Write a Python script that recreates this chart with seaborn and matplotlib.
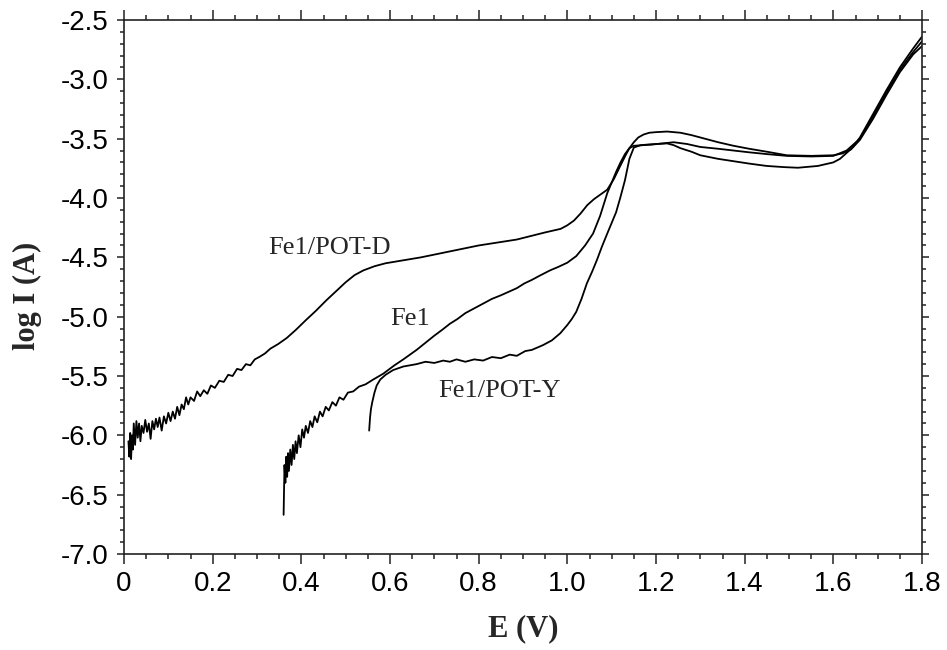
import numpy as np
import pandas as pd
import matplotlib
matplotlib.use("Agg")
import matplotlib.pyplot as plt
from matplotlib.ticker import MultipleLocator, FuncFormatter
import seaborn as sns

# Polarization curves: potential E (V) vs log I (A)
pot_d_E = [0.010, 0.012, 0.014, 0.016, 0.018, 0.020, 0.022, 0.025, 0.028, 0.031,
           0.034, 0.037, 0.040, 0.044, 0.048, 0.052, 0.056, 0.060, 0.064, 0.068,
           0.072, 0.076, 0.080, 0.085, 0.090, 0.095, 0.100, 0.105, 0.110, 0.115,
           0.120, 0.125, 0.130, 0.135, 0.140, 0.145, 0.150, 0.158, 0.165, 0.172,
           0.180, 0.188, 0.196, 0.205, 0.215, 0.225, 0.235, 0.245, 0.255, 0.265,
           0.275, 0.285, 0.295, 0.305, 0.318, 0.330, 0.348, 0.367, 0.388, 0.410,
           0.433, 0.457, 0.480, 0.500, 0.520, 0.540, 0.565, 0.590, 0.630, 0.670,
           0.735, 0.800, 0.886, 0.950, 0.985, 1.000, 1.015, 1.030, 1.045, 1.060,
           1.075, 1.090, 1.105, 1.118, 1.130, 1.140, 1.150, 1.160, 1.172, 1.185,
           1.200, 1.225, 1.255, 1.280, 1.300, 1.340, 1.375, 1.410, 1.450, 1.495,
           1.550, 1.600, 1.620, 1.640, 1.660, 1.690, 1.720, 1.750, 1.780, 1.800]
pot_d_logI = [-6.05, -6.18, -5.98, -6.20, -6.00, -6.12, -5.90, -6.08, -5.88, -6.02,
              -5.90, -6.05, -5.92, -5.98, -5.87, -5.97, -5.90, -6.03, -5.88, -5.95,
              -5.86, -5.93, -5.85, -5.96, -5.84, -5.90, -5.81, -5.88, -5.80, -5.86,
              -5.76, -5.83, -5.74, -5.78, -5.68, -5.74, -5.68, -5.71, -5.63, -5.67,
              -5.62, -5.65, -5.58, -5.60, -5.54, -5.55, -5.49, -5.50, -5.44, -5.45,
              -5.40, -5.41, -5.36, -5.34, -5.31, -5.27, -5.23, -5.18, -5.11, -5.03,
              -4.95, -4.86, -4.78, -4.71, -4.65, -4.61, -4.575, -4.55, -4.525, -4.50,
              -4.45, -4.40, -4.35, -4.29, -4.26, -4.23, -4.19, -4.13, -4.06, -4.01,
              -3.97, -3.93, -3.84, -3.74, -3.65, -3.58, -3.53, -3.49, -3.465, -3.45,
              -3.445, -3.44, -3.45, -3.47, -3.49, -3.53, -3.56, -3.585, -3.61, -3.64,
              -3.645, -3.64, -3.625, -3.59, -3.49, -3.29, -3.09, -2.90, -2.74, -2.64]

fe1_E = [0.360, 0.362, 0.364, 0.366, 0.368, 0.370, 0.372, 0.375, 0.378, 0.381,
         0.384, 0.387, 0.390, 0.394, 0.398, 0.402, 0.406, 0.410, 0.415, 0.420,
         0.425, 0.430, 0.436, 0.442, 0.448, 0.455, 0.462, 0.470, 0.478, 0.486,
         0.495, 0.505, 0.517, 0.530, 0.545, 0.562, 0.585, 0.610, 0.630, 0.660,
         0.680, 0.700, 0.718, 0.735, 0.752, 0.770, 0.790, 0.810, 0.830, 0.850,
         0.868, 0.886, 0.903, 0.920, 0.940, 0.961, 0.980, 1.000, 1.020, 1.040,
         1.058, 1.074, 1.090, 1.100, 1.110, 1.120, 1.130, 1.140, 1.150, 1.170,
         1.190, 1.215, 1.240, 1.270, 1.300, 1.340, 1.375, 1.410, 1.450, 1.495,
         1.550, 1.600, 1.630, 1.660, 1.690, 1.720, 1.750, 1.780, 1.800]
fe1_logI = [-6.67, -6.25, -6.40, -6.18, -6.35, -6.15, -6.30, -6.12, -6.25, -6.08,
            -6.20, -6.05, -6.15, -6.00, -6.10, -5.95, -6.02, -5.92, -5.98, -5.88,
            -5.93, -5.84, -5.89, -5.80, -5.84, -5.76, -5.79, -5.72, -5.75, -5.68,
            -5.70, -5.64, -5.63, -5.59, -5.57, -5.53, -5.48, -5.41, -5.36, -5.28,
            -5.22, -5.16, -5.11, -5.06, -5.02, -4.97, -4.93, -4.89, -4.85, -4.82,
            -4.79, -4.76, -4.72, -4.69, -4.65, -4.61, -4.58, -4.545, -4.49, -4.40,
            -4.30, -4.15, -3.96, -3.87, -3.78, -3.70, -3.63, -3.58, -3.56, -3.555,
            -3.55, -3.54, -3.53, -3.545, -3.57, -3.585, -3.60, -3.615, -3.63, -3.645,
            -3.65, -3.645, -3.60, -3.50, -3.31, -3.11, -2.92, -2.77, -2.68]

pot_y_E = [0.553, 0.555, 0.557, 0.560, 0.565, 0.570, 0.578, 0.590, 0.607, 0.630,
           0.660, 0.680, 0.700, 0.720, 0.735, 0.750, 0.770, 0.790, 0.810, 0.830,
           0.850, 0.870, 0.886, 0.905, 0.920, 0.945, 0.965, 0.984, 1.000, 1.010,
           1.020, 1.032, 1.044, 1.056, 1.067, 1.078, 1.090, 1.100, 1.110, 1.120,
           1.130, 1.140, 1.150, 1.165, 1.180, 1.200, 1.225, 1.240, 1.255, 1.280,
           1.300, 1.340, 1.375, 1.410, 1.450, 1.490, 1.520, 1.565, 1.600, 1.615,
           1.630, 1.645, 1.660, 1.690, 1.720, 1.750, 1.780, 1.800]
pot_y_logI = [-5.96, -5.85, -5.78, -5.72, -5.64, -5.58, -5.53, -5.49, -5.45, -5.42,
              -5.40, -5.38, -5.39, -5.37, -5.38, -5.36, -5.38, -5.36, -5.37, -5.34,
              -5.35, -5.32, -5.33, -5.29, -5.28, -5.24, -5.20, -5.14, -5.07, -5.02,
              -4.96, -4.85, -4.72, -4.62, -4.52, -4.41, -4.30, -4.21, -4.12, -3.99,
              -3.85, -3.67, -3.575, -3.555, -3.55, -3.545, -3.54, -3.555, -3.58, -3.61,
              -3.64, -3.67, -3.69, -3.71, -3.73, -3.74, -3.745, -3.73, -3.70, -3.67,
              -3.62, -3.57, -3.51, -3.33, -3.13, -2.94, -2.79, -2.72]

labels = ["Fe1/POT-D", "Fe1", "Fe1/POT-Y"]
label_E = [0.325, 0.600, 0.708]
label_logI = [-4.42, -5.02, -5.63]

x_ticks = [0, 0.2, 0.4, 0.6, 0.8, 1.0, 1.2, 1.4, 1.6, 1.8]
y_ticks = [-2.5, -3.0, -3.5, -4.0, -4.5, -5.0, -5.5, -6.0, -6.5, -7.0]

frames = []
for name, e, li in [(labels[0], pot_d_E, pot_d_logI),
                    (labels[1], fe1_E, fe1_logI),
                    (labels[2], pot_y_E, pot_y_logI)]:
    frames.append(pd.DataFrame({"E": e, "logI": li, "sample": name,
                                "step": np.arange(len(e))}))
df = pd.concat(frames, ignore_index=True)

sns.set_style("ticks")
plt.rcParams["axes.unicode_minus"] = False
plt.rcParams["font.family"] = ["Liberation Sans", "DejaVu Sans"]

fig = plt.figure(figsize=(9.47, 6.5), dpi=100)
ax = fig.add_axes([124 / 947, 1 - 554 / 650, 798 / 947, 534 / 650])

sns.lineplot(data=df, x="E", y="logI", units="sample", estimator=None,
             sort=False, color="black", linewidth=1.3, ax=ax, legend=False)

ax.set_xlim(0, 1.8)
ax.set_ylim(-7.0, -2.5)
ax.set_xticks(x_ticks)
ax.set_yticks(y_ticks)
ax.xaxis.set_minor_locator(MultipleLocator(0.05))
ax.yaxis.set_minor_locator(MultipleLocator(0.1))
ax.xaxis.set_major_formatter(FuncFormatter(lambda v, p: "0" if abs(v) < 1e-9 else f"{v:.1f}"))
ax.yaxis.set_major_formatter(FuncFormatter(lambda v, p: f"{v:.1f}"))

for s in ax.spines.values():
    s.set_visible(True)
    s.set_linewidth(1.2)
    s.set_color("#222222")

ax.tick_params(axis="both", which="both", direction="out", top=True, right=True,
               colors="#222222", labelcolor="black", width=1.1)
ax.tick_params(axis="x", which="major", length=7, pad=5, labelsize=20)
ax.tick_params(axis="x", which="minor", length=3.5)
ax.tick_params(axis="y", which="major", length=5, pad=6, labelsize=20)
ax.tick_params(axis="y", which="minor", length=3)

serif = ["Liberation Serif", "DejaVu Serif"]
ax.set_xlabel("E (V)", fontsize=22, fontweight="bold", family=serif)
ax.set_ylabel("log I (A)", fontsize=22, fontweight="bold", family=serif)
ax.xaxis.label.set_va("center")
ax.yaxis.label.set_va("center")
ax.xaxis.set_label_coords(0.5, (554 - 629) / 534)
ax.yaxis.set_label_coords((27 - 124) / 798, (554 - 296) / 534)

for t, xe, yl in zip(labels, label_E, label_logI):
    ax.text(xe, yl, t, fontsize=19, family=serif, ha="left", va="center")

fig.savefig("out.png", dpi=100, facecolor="white")
